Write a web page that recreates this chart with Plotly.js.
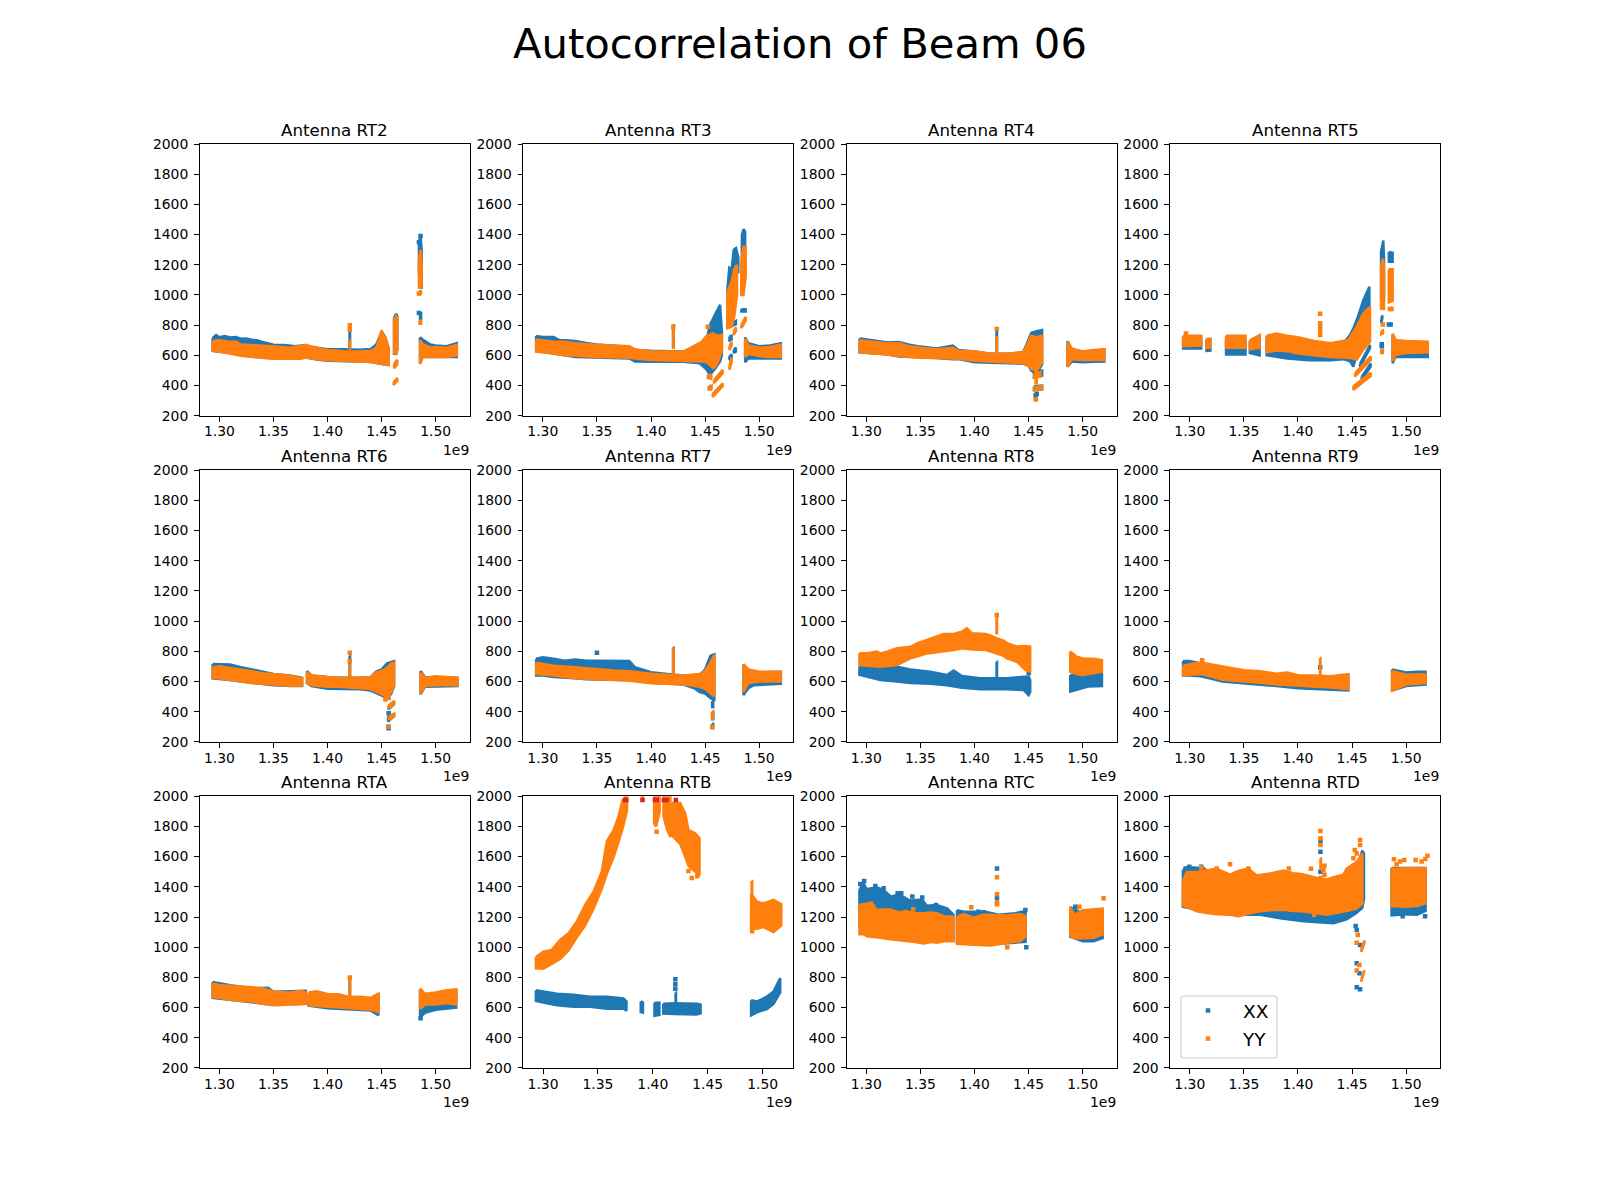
<!DOCTYPE html>
<html>
<head>
<meta charset="utf-8">
<script src="https://cdn.plot.ly/plotly-3.0.1.min.js"></script>
<style>html,body{margin:0;padding:0;background:#fff}</style>
</head>
<body>
<div id="chart" style="width:1600px;height:1200px"></div>
<script>
// Rows are [frequency / 1e9, lowest value, highest value]; null starts a new piece of the band.
const antennas = ['RT2','RT3','RT4','RT5','RT6','RT7','RT8','RT9','RTA','RTB','RTC','RTD'];
const xTicks = [1.30,1.35,1.40,1.45,1.50];
const xTickText = ['1.30','1.35','1.40','1.45','1.50'];
const yTicks = [200,400,600,800,1000,1200,1400,1600,1800,2000];

const rt2XX = [[1.2938,630,715],[1.297,628,735],[1.30,625,720],[1.305,620,728],[1.31,615,718],[1.315,610,722],[1.32,600,710],[1.325,595,712],[1.33,590,703],[1.335,588,700],[1.34,585,688],[1.345,582,680],[1.35,580,670],[1.36,580,668],[1.37,582,660],[1.38,585,668],[1.385,578,652],[1.39,572,650],[1.40,565,640],[1.415,562,640],[1.43,560,638],[1.44,556,642],[1.445,552,672],[1.45,545,755],[1.4535,540,720],[1.4565,538,640],null,
  [1.4615,610,850],[1.4635,610,875],[1.4645,640,860],null,[1.4204,640,800],[1.4208,640,800],null,
  [1.4845,1150,1350],[1.486,1050,1390],[1.487,1050,1300],null,[1.4855,840,880],[1.4865,840,880],null,
  [1.4855,545,720],[1.488,590,705],[1.495,590,672],[1.50,585,665],[1.51,590,660],[1.515,590,672],[1.5195,590,680]];
const rt2YY = [[1.2938,630,695],[1.30,625,700],[1.31,612,688],[1.315,606,692],[1.32,598,672],[1.33,590,668],[1.34,582,668],[1.35,578,660],[1.365,580,650],[1.375,578,662],[1.38,585,668],[1.39,575,650],[1.40,568,635],[1.415,562,628],[1.43,560,625],[1.44,556,630],[1.445,552,650],[1.45,545,765],[1.4535,540,715],[1.4565,535,650],null,
  [1.4615,615,835],[1.4635,610,860],[1.4645,640,850],null,[1.4204,640,700],[1.4208,640,700],null,
  [1.4615,515,545],[1.4645,540,570],null,[1.461,405,420],[1.4645,430,450],null,
  [1.4845,1050,1240],[1.486,1050,1300],[1.487,1060,1200],null,[1.4845,1000,1020],[1.4865,1010,1030],null,[1.485,810,830],[1.4865,810,830],null,
  [1.4855,545,700],[1.488,590,675],[1.495,592,652],[1.50,590,655],[1.51,590,650],[1.5195,600,670]];
const rt2XXDots = [[1.4845,1350],[1.486,1390],[1.4845,880]];
const rt2YYDots = [[1.4206,800],[1.4206,770],[1.4845,1010]];

const rt3XX = [[1.2938,630,728],[1.30,625,722],[1.31,612,722],[1.315,606,702],[1.32,600,700],[1.33,590,695],[1.34,588,682],[1.35,588,672],[1.38,580,655],[1.385,560,635],[1.40,558,630],[1.43,558,625],[1.445,548,650],[1.4514,505,702],[1.4543,470,800],[1.46,520,880],[1.4638,560,934],[1.4655,600,760],null,
  [1.4705,900,1030],[1.4724,950,1180],[1.4745,1000,1170],[1.4765,1080,1300],[1.4785,1150,1310],[1.4807,1150,1250],null,
  [1.484,1250,1400],[1.4855,1300,1435],[1.487,1290,1420],null,[1.4835,890,905],[1.4875,890,905],null,
  [1.4204,650,800],[1.4208,650,800],null,[1.487,555,720],[1.49,580,680],[1.50,578,660],[1.51,580,665],[1.52,580,680],null,
  [1.4765,800,825],[1.4785,805,830],null,[1.4725,700,725],[1.4745,705,730],null,[1.4765,615,640],[1.4785,625,650],null,[1.4725,570,595],[1.4745,580,605]];
const rt3YY = [[1.2938,625,705],[1.31,612,690],[1.32,600,690],[1.33,595,680],[1.35,590,670],[1.38,585,660],[1.385,580,640],[1.40,570,625],[1.43,565,625],[1.4468,560,690],[1.4514,555,730],[1.4576,514,746],[1.4605,535,730],[1.4655,625,735],null,
  [1.4705,780,1020],[1.4745,790,1090],[1.477,860,1170],[1.4795,1000,1200],null,
  [1.4835,1000,1230],[1.4855,1000,1320],[1.4875,1120,1320],null,
  [1.4204,650,780],[1.4208,650,780],null,[1.487,590,712],[1.49,610,668],[1.50,595,650],[1.51,590,655],[1.52,590,670],null,
  [1.457,325,345],[1.4662,395,415],null,[1.4582,415,435],[1.4662,482,505],null,[1.4535,375,395],[1.456,380,400],null,[1.4525,450,470],[1.4555,445,470],null,
  [1.4725,505,530],[1.4745,555,585],null,[1.4725,635,660],[1.4745,665,690],null,[1.4765,735,760],[1.4785,760,785],null,[1.4835,780,800],[1.4875,830,855]];
const rt3XXDots = [[1.4545,460],[1.4545,382]];
const rt3YYDots = [[1.4206,790],[1.4526,790]];

const rt4XX = [[1.2938,620,712],[1.30,618,705],[1.31,612,695],[1.32,605,685],[1.33,592,688],[1.34,590,670],[1.35,585,658],[1.365,582,645],[1.38,575,665],[1.385,575,635],[1.40,555,625],[1.415,555,610],[1.43,550,610],[1.445,545,620],[1.45,530,705],[1.4525,500,750],[1.4575,480,760],[1.4625,540,768],null,
  [1.4204,600,770],[1.4208,600,770],null,[1.4565,470,500],[1.4575,470,500],null,[1.4565,305,325],[1.4575,305,325],null,[1.455,455,490],[1.4625,465,500],null,[1.455,370,395],[1.4625,375,400],null,
  [1.486,525,695],[1.49,560,640],[1.50,555,625],[1.51,558,630],[1.52,560,640]];
const rt4YY = [[1.2938,620,700],[1.30,618,695],[1.31,612,685],[1.32,605,678],[1.33,595,680],[1.34,590,660],[1.35,585,650],[1.365,582,640],[1.38,578,650],[1.385,578,630],[1.40,565,625],[1.415,560,610],[1.43,555,610],[1.445,548,620],[1.45,530,690],[1.4525,510,730],[1.4575,500,720],[1.4625,550,730],null,
  [1.4204,620,720],[1.4208,620,720],null,[1.4565,415,500],[1.4575,415,500],null,[1.455,450,475],[1.461,460,490],null,[1.455,370,390],[1.4625,375,395],null,
  [1.486,525,690],[1.49,575,645],[1.50,570,625],[1.51,570,635],[1.52,570,640]];
const rt4XXDots = [[1.4565,335],[1.4575,345]];
const rt4YYDots = [[1.4206,775],[1.4565,310]];

const rt5XX = [[1.2938,645,710],[1.3105,645,715],null,[1.3155,630,705],[1.319,632,705],null,[1.3335,605,700],[1.3515,605,700],null,[1.3555,615,690],[1.3645,600,720],null,
  [1.371,602,720],[1.39,580,715],[1.41,568,690],[1.43,568,675],[1.442,575,680],[1.4481,560,735],[1.4512,525,780],[1.4543,610,834],[1.4605,670,967],[1.466,725,1055],null,
  [1.4574,525,545],[1.4666,648,668],null,[1.4589,438,458],[1.4672,526,546],null,
  [1.4768,960,1290],[1.4789,1060,1360],[1.4795,960,1240],null,[1.484,1220,1285],[1.4875,1220,1280],null,[1.485,1000,1170],[1.4865,1000,1170],null,
  [1.477,815,840],[1.478,845,865],null,[1.4875,547,735],[1.49,590,705],[1.50,590,668],[1.51,590,660],[1.52,590,680]];
const rt5YY = [[1.2938,660,730],[1.3105,665,730],null,[1.3155,650,710],[1.319,650,710],null,[1.3335,650,730],[1.3515,650,730],null,[1.3555,640,700],[1.3645,650,735],null,
  [1.371,620,730],[1.38,632,745],[1.39,628,730],[1.40,612,720],[1.415,600,695],[1.43,590,680],[1.4466,585,702],[1.4543,572,790],[1.4605,640,879],[1.4666,690,923],null,
  [1.4512,372,395],[1.4672,462,485],null,[1.4528,460,482],[1.4672,570,592],null,
  [1.4768,900,1190],[1.4785,980,1240],[1.4795,900,1180],null,[1.484,950,1170],[1.4875,960,1170],null,[1.477,740,760],[1.4785,745,765],null,[1.477,615,640],[1.4785,615,635],null,
  [1.4875,565,745],[1.49,602,702],[1.50,615,695],[1.51,615,695],[1.52,620,690]];
const rt5XXDots = [[1.4857,805],[1.484,805],[1.4775,673],[1.4775,660]];
const rt5YYDots = [[1.4205,875],[1.4205,812],[1.4205,790],[1.4205,760],[1.4205,735],[1.2965,745],[1.485,907],[1.4865,907],[1.4785,805]];

const rt6XX = [[1.2938,620,715],[1.30,615,712],[1.31,610,712],[1.32,600,695],[1.33,590,680],[1.34,582,665],[1.35,575,650],[1.365,570,640],[1.3765,570,625],null,
  [1.381,590,670],[1.385,570,640],[1.40,552,630],[1.41,552,625],[1.43,548,625],[1.44,540,630],[1.445,520,665],[1.45,505,680],[1.455,490,720],[1.459,520,730],[1.4615,570,735],null,
  [1.4565,415,440],[1.4615,450,470],null,[1.456,335,370],[1.4615,370,385],null,[1.4204,620,770],[1.4208,620,770],null,
  [1.486,515,670],[1.49,565,630],[1.50,570,625],[1.52,570,625]];
const rt6YY = [[1.2938,625,695],[1.30,620,700],[1.31,612,690],[1.32,600,680],[1.33,590,668],[1.34,585,655],[1.35,578,650],[1.365,572,640],[1.3765,572,622],null,
  [1.381,590,665],[1.385,575,640],[1.40,565,630],[1.41,565,625],[1.43,555,625],[1.44,550,630],[1.445,530,660],[1.45,515,670],[1.455,500,690],[1.459,530,720],[1.4615,580,725],null,
  [1.4565,420,440],[1.4615,450,470],null,[1.457,345,370],[1.4615,370,385],null,[1.4204,640,710],[1.4208,640,710],null,
  [1.486,520,660],[1.49,570,625],[1.50,575,635],[1.52,575,625]];
const rt6XXDots = [[1.4565,290],[1.4565,300],[1.4565,390]];
const rt6YYDots = [[1.4206,790],[1.4206,735],[1.4565,300],[1.4535,480],[1.4565,490]];

const rt7XX = [[1.2938,640,750],[1.30,640,760],[1.31,630,750],[1.32,625,738],[1.33,622,745],[1.34,615,738],[1.35,612,738],[1.365,612,735],[1.38,610,735],[1.385,612,695],[1.40,592,662],[1.415,588,650],[1.43,580,640],[1.44,555,640],[1.445,530,640],[1.45,520,680],[1.455,490,770],[1.4585,480,780],null,
  [1.4204,620,825],[1.4208,620,825],null,[1.4565,430,470],[1.4575,430,470],null,[1.4565,350,400],[1.4575,350,400],null,[1.4565,290,320],[1.4575,290,320],null,
  [1.4855,510,710],[1.49,555,660],[1.495,575,660],[1.50,580,660],[1.52,585,665]];
const rt7YY = [[1.2938,650,725],[1.31,640,705],[1.33,622,695],[1.35,612,682],[1.365,610,672],[1.38,605,668],[1.40,588,652],[1.415,585,645],[1.43,582,640],[1.445,565,650],[1.45,552,670],[1.455,520,725],[1.4585,500,775],null,
  [1.4204,640,825],[1.4208,640,825],null,[1.4565,355,400],[1.4575,355,400],null,
  [1.4855,530,715],[1.49,590,680],[1.50,600,665],[1.52,600,665]];
const rt7XXDots = [[1.35,790]];
const rt7YYDots = [[1.4565,300]];

const rt8XX = [[1.2936,645,700],[1.3129,610,690],[1.3283,600,698],[1.3407,590,680],[1.3591,585,665],[1.3745,575,643],[1.3807,570,672],[1.3884,558,636],[1.4054,548,621],[1.4177,548,621],[1.43,548,621],[1.4454,544,632],[1.45,510,632],[1.4515,530,610],null,
  [1.4204,621,731],[1.4208,621,731],null,[1.4885,533,643],[1.505,566,643],[1.5178,570,650]];
const rt8YY = [[1.2936,709,787],[1.3006,705,787],[1.3098,700,798],[1.3129,698,785],[1.3191,700,798],[1.3283,709,820],[1.3407,753,830],[1.3468,765,853],[1.3561,786,875],[1.3715,798,915],[1.3807,808,915],[1.3884,820,930],[1.393,815,952],[1.3977,812,919],[1.4100,809,915],[1.4146,800,905],[1.4208,786,886],[1.4269,770,870],[1.4300,753,853],[1.4392,731,831],[1.4470,676,835],[1.4515,665,831],null,
  [1.4204,919,1040],[1.4208,919,1040],null,[1.4885,665,798],[1.4945,650,764],[1.5,643,753],[1.51,655,750],[1.5178,665,742]];
const rt8XXDots = [[1.4501,654]];
const rt8YYDots = [[1.4206,1040]];

const rt9XX = [[1.2938,640,735],[1.30,640,735],[1.31,635,720],[1.32,618,705],[1.33,600,692],[1.34,595,675],[1.35,590,660],[1.38,570,640],[1.40,555,630],[1.415,550,625],[1.43,545,612],[1.4465,540,640],null,
  [1.487,540,680],[1.50,570,660],[1.51,575,665],[1.518,580,665]];
const rt9YY = [[1.2938,640,705],[1.30,645,715],[1.31,650,725],[1.32,632,712],[1.33,612,702],[1.34,605,685],[1.35,600,675],[1.365,592,668],[1.38,580,652],[1.39,575,660],[1.40,570,642],[1.415,565,640],[1.43,560,635],[1.4465,550,648],null,
  [1.4204,640,755],[1.4208,640,755],null,[1.487,540,670],[1.50,580,645],[1.51,585,648],[1.518,590,645]];
const rt9XXDots = [[1.4206,695]];
const rt9YYDots = [[1.3115,740]];

const rtaXX = [[1.2938,665,770],[1.31,652,748],[1.33,635,728],[1.345,622,732],[1.35,620,705],[1.38,625,712],null,
  [1.3825,612,680],[1.40,595,672],[1.42,590,660],[1.44,580,650],[1.447,550,692],null,
  [1.4204,640,790],[1.4208,640,790],null,[1.4855,535,720],[1.49,565,690],[1.50,585,690],[1.519,600,712]];
const rtaYY = [[1.2938,670,760],[1.30,665,750],[1.31,652,745],[1.32,645,742],[1.33,640,735],[1.34,625,728],[1.35,615,705],[1.365,618,700],[1.375,622,710],[1.38,625,700],null,
  [1.3825,615,700],[1.39,610,708],[1.40,605,690],[1.41,600,688],[1.42,595,670],[1.43,590,672],[1.44,585,665],[1.447,570,692],null,
  [1.4204,660,800],[1.4208,660,800],null,[1.4855,590,725],[1.49,620,690],[1.50,620,700],[1.51,630,715],[1.519,620,720]];
const rtaXXDots = [[1.486,530]];
const rtaYYDots = [[1.4206,800]];

const rtbXX = [[1.2935,643,715],[1.3126,615,692],[1.3277,605,685],[1.3429,605,672],[1.3581,592,672],[1.3733,592,660],[1.376,580,640],null,
  [1.389,570,640],[1.391,566,635],null,[1.4015,546,632],[1.406,552,632],null,[1.4095,560,625],[1.42,558,628],[1.44,555,625],[1.4435,562,620],null,
  [1.4207,640,700],[1.4211,640,700],null,[1.4895,548,648],[1.4947,568,640],[1.5038,590,672],[1.5099,625,706],[1.516,700,795]];
const rtbYY = [[1.2935,860,935],[1.3004,858,970],[1.308,890,982],[1.3156,922,1048],[1.3232,978,1092],[1.3308,1066,1170],[1.3384,1144,1280],[1.346,1254,1368],[1.3535,1387,1500],[1.3581,1486,1700],[1.3642,1596,1776],[1.3687,1696,1864],[1.3724,1784,1975],[1.3765,1906,2010],null,
  [1.39,1975,2010],[1.391,1975,2010],null,[1.4012,1818,2010],[1.403,1800,2010],[1.4062,1895,2010],null,[1.4097,1872,2010],[1.4127,1784,2010],[1.416,1730,2010],null,
  [1.4173,1740,1955],[1.4249,1685,1955],[1.4294,1600,1888],[1.4325,1540,1776],[1.4385,1500,1754],[1.4425,1475,1722],null,
  [1.4895,1122,1356],[1.4947,1122,1302],[1.5008,1133,1290],[1.5099,1100,1313],[1.517,1144,1285],null,[1.49,1360,1438],[1.4905,1360,1438]];
const rtbXXDots = [[1.4205,787],[1.4205,755],[1.4205,725]];
const rtbYYDots = [[1.3625,1640],[1.4035,1765],[1.4355,1458],[1.4325,1505],[1.4405,1470],[1.4905,1105]];
const rtbClipped = [[1.3748,1975],[1.3758,1975],[1.3906,1975],[1.402,1975],[1.4036,1975],[1.41,1975],[1.4127,1975],[1.4209,1975]];

const rtcXX = [[1.2936,1140,1380],[1.2975,1130,1425],[1.30,1120,1385],[1.31,1120,1395],[1.3155,1100,1380],[1.323,1090,1335],[1.33,1080,1350],[1.34,1070,1310],[1.3515,1060,1315],[1.356,1050,1275],[1.365,1045,1280],[1.375,1045,1255],[1.3805,1045,1215],null,
  [1.3838,1025,1245],[1.39,1022,1235],[1.40,1020,1235],[1.41,1018,1235],[1.4225,1025,1215],[1.4375,1030,1225],[1.4472,1035,1240],null,
  [1.4885,1070,1265],[1.50,1040,1225],[1.51,1040,1225],[1.5185,1060,1235]];
const rtcYY = [[1.2936,1085,1280],[1.298,1085,1285],[1.3006,1072,1290],[1.305,1070,1295],[1.3098,1065,1245],[1.3129,1062,1250],[1.3222,1052,1250],[1.33,1045,1230],[1.336,1040,1240],[1.345,1035,1225],[1.353,1025,1225],[1.36,1035,1230],[1.3653,1030,1225],[1.3715,1040,1205],[1.3805,1040,1200],null,
  [1.3838,1022,1200],[1.39,1020,1220],[1.3992,1018,1195],[1.4075,1015,1215],[1.4146,1012,1215],[1.425,1022,1210],[1.43,1030,1210],[1.4424,1040,1220],[1.4472,1070,1205],null,
  [1.4885,1080,1270],[1.492,1060,1215],[1.50,1060,1245],[1.51,1062,1250],[1.5185,1085,1255]];
const rtcXXDots = [[1.2944,1418],[1.298,1438],[1.3083,1405],[1.316,1390],[1.329,1357],[1.3323,1357],[1.3425,1335],[1.3517,1330],[1.3644,1280],[1.4035,1235],[1.4082,1231],[1.4177,1207],[1.4208,1522],[1.4208,1324],[1.447,1246],[1.4479,1000],[1.4932,1268]];
const rtcYYDots = [[1.4208,1463],[1.4208,1350],[1.4208,1295],[1.4208,1284],[1.397,1264],[1.4303,999],[1.5193,1324],[1.4969,1268],[1.3434,1251]];

const rtdXX = [[1.2936,1268,1510],[1.2975,1262,1530],[1.3125,1240,1525],[1.322,1225,1475],[1.3433,1215,1460],[1.3649,1215,1450],[1.3834,1192,1450],[1.405,1172,1440],[1.4327,1158,1430],[1.445,1185,1470],[1.4543,1228,1530],[1.4595,1260,1640],[1.461,1320,1620],null,
  [1.4865,1210,1525],[1.50,1218,1525],[1.51,1215,1525],[1.518,1240,1525]];
const rtdYY = [[1.2936,1275,1440],[1.2971,1268,1498],[1.3064,1238,1498],[1.3171,1225,1508],[1.3248,1218,1520],[1.3372,1215,1480],[1.3449,1205,1505],[1.3541,1222,1520],[1.3618,1235,1475],[1.3741,1245,1488],[1.3865,1248,1508],[1.3957,1240,1490],[1.4034,1238,1485],[1.4173,1225,1458],[1.4265,1215,1450],[1.4419,1235,1480],[1.445,1240,1520],[1.4543,1258,1565],[1.4595,1290,1620],null,
  [1.4865,1272,1520],[1.50,1268,1525],[1.51,1272,1525],[1.518,1290,1525],null,[1.4208,1522,1589],[1.4212,1522,1589],null,[1.4585,970,985],[1.4615,1030,1045],null,[1.4585,772,785],[1.4615,835,848]];
const rtdXXDots = [[1.2961,1522],[1.2995,1533],[1.3106,1533],[1.4208,1703],[1.4208,1633],[1.4208,1500],[1.4543,1114],[1.4574,1015],[1.4543,893],[1.4568,827],[1.4543,734],[1.4574,721],[1.4533,1140],[1.5175,1205],[1.4968,1205]];
const rtdYYDots = [[1.3372,1549],[1.3248,1522],[1.3106,1528],[1.3541,1522],[1.3915,1522],[1.412,1520],[1.4245,1540],[1.4208,1770],[1.4208,1721],[1.4208,1677],[1.4207,1458],[1.4245,1480],[1.4525,1644],[1.4574,1710],[1.4574,1677],[1.4512,1589],[1.4543,1620],[1.4553,1081],[1.4543,1030],[1.4568,882],[1.4543,845],[1.4887,1582],[1.4943,1567],[1.4983,1578],[1.5088,1578],[1.5143,1567],[1.5177,1585],[1.5197,1606],[1.4912,1550],[1.4235,1510],[1.415,1215]];

const xxBands = [rt2XX,rt3XX,rt4XX,rt5XX,rt6XX,rt7XX,rt8XX,rt9XX,rtaXX,rtbXX,rtcXX,rtdXX];
const yyBands = [rt2YY,rt3YY,rt4YY,rt5YY,rt6YY,rt7YY,rt8YY,rt9YY,rtaYY,rtbYY,rtcYY,rtdYY];
const xxDots = [rt2XXDots,rt3XXDots,rt4XXDots,rt5XXDots,rt6XXDots,rt7XXDots,rt8XXDots,rt9XXDots,rtaXXDots,rtbXXDots,rtcXXDots,rtdXXDots];
const yyDots = [rt2YYDots,rt3YYDots,rt4YYDots,rt5YYDots,rt6YYDots,rt7YYDots,rt8YYDots,rt9YYDots,rtaYYDots,rtbYYDots,rtcYYDots,rtdYYDots];

const BLUE = '#1f77b4', ORANGE = '#ff7f0e', RED = '#d62728';
const FONT = 'DejaVu Sans, sans-serif';

// axes boxes of a 16x12 inch 3x4 matplotlib grid, in pixels
const W = 1600, H = 1200, boxW = 269.57, boxH = 271.76, gapX = 53.91, gapY = 54.35;

// outline every band piece as a closed polygon through its rows
function bandTrace(rows, color, axis) {
    const x = [], y = [];
    let piece = [];
    const flush = () => {
        piece.forEach(r => { x.push(r[0]); y.push(r[2]); });
        piece.slice().reverse().forEach(r => { x.push(r[0]); y.push(r[1]); });
        if (piece.length) { x.push(piece[0][0]); y.push(piece[0][2]); x.push(null); y.push(null); }
        piece = [];
    };
    rows.forEach(r => { if (r === null) flush(); else piece.push(r); });
    flush();
    return { x, y, type: 'scatter', mode: 'lines', fill: 'toself', fillcolor: color,
        line: { color, width: 2.5 }, xaxis: 'x' + axis, yaxis: 'y' + axis, showlegend: false, hoverinfo: 'skip' };
}

function dotTrace(rows, color, axis, name, group) {
    return { x: rows.map(r => r[0]), y: rows.map(r => r[1]), type: 'scatter', mode: 'markers',
        marker: { color, size: 4.5, symbol: 'square' }, xaxis: 'x' + axis, yaxis: 'y' + axis,
        name: name || '', showlegend: !!name, legendgroup: group, hoverinfo: 'skip' };
}

const traces = [];
const layout = {
    width: W, height: H, margin: { l: 0, r: 0, t: 0, b: 0 },
    paper_bgcolor: '#fff', plot_bgcolor: '#fff',
    font: { family: FONT, color: '#000', size: 13.9 },
    title: { text: 'Autocorrelation of Beam 06', font: { family: FONT, size: 41.7, color: '#000' },
        x: 0.5, xanchor: 'center', y: 1 - 43 / H, yanchor: 'middle' },
    annotations: [], shapes: [],
    showlegend: true,
    legend: { x: 1173 / W, y: 1 - 992 / H, xanchor: 'left', yanchor: 'top', bgcolor: 'rgba(0,0,0,0)',
        font: { family: FONT, size: 18.5, color: '#000' }, itemwidth: 60, tracegroupgap: 1, borderwidth: 0 },
};

antennas.forEach((name, i) => {
    const n = i + 1, col = i % 4, row = Math.floor(i / 4);
    const left = 200 + col * (boxW + gapX), top = 144 + row * (boxH + gapY);
    const isLast = i === antennas.length - 1;
    traces.push(bandTrace(xxBands[i], BLUE, n));
    traces.push(dotTrace(xxDots[i], BLUE, n, isLast ? 'XX' : '', 'xx'));
    traces.push(bandTrace(yyBands[i], ORANGE, n));
    traces.push(dotTrace(yyDots[i], ORANGE, n, isLast ? 'YY' : '', 'yy'));
    if (name === 'RTB') traces.push(dotTrace(rtbClipped, RED, n));

    layout['xaxis' + n] = {
        domain: [left / W, (left + boxW) / W], anchor: 'y' + n,
        range: name === 'RTB' ? [1.2822, 1.5277] : [1.2821, 1.5313],
        tickmode: 'array', tickvals: xTicks, ticktext: xTickText, ticklabelstandoff: -2,
        ticks: 'outside', ticklen: 4.9, tickwidth: 1.1, tickcolor: '#000',
        showline: true, mirror: true, linecolor: '#000', linewidth: 1.1,
        showgrid: false, zeroline: false, tickfont: { family: FONT, size: 13.9, color: '#000' },
    };
    layout['yaxis' + n] = {
        domain: [1 - (top + boxH) / H, 1 - top / H], anchor: 'x' + n, range: [200, 2000],
        tickmode: 'array', tickvals: yTicks, ticklabelstandoff: 3,
        ticks: 'outside', ticklen: 4.9, tickwidth: 1.1, tickcolor: '#000',
        showline: true, mirror: true, linecolor: '#000', linewidth: 1.1,
        showgrid: false, zeroline: false, tickfont: { family: FONT, size: 13.9, color: '#000' },
    };
    layout.annotations.push({ text: 'Antenna ' + name, xref: 'paper', yref: 'paper',
        x: (left + boxW / 2) / W, y: 1 - (top - 3) / H, xanchor: 'center', yanchor: 'bottom',
        showarrow: false, borderpad: 0, font: { family: FONT, size: 16.7, color: '#000' } });
    layout.annotations.push({ text: '1e9', xref: 'paper', yref: 'paper',
        x: (left + boxW) / W, y: 1 - (top + boxH + 25) / H, xanchor: 'right', yanchor: 'top',
        showarrow: false, borderpad: 0, font: { family: FONT, size: 13.9, color: '#000' } });
});

// legend frame with rounded corners
const fx = v => (v / W).toFixed(5), fy = v => (1 - v / H).toFixed(5);
const lx0 = 1181, lx1 = 1277, ly0 = 996, ly1 = 1058, rr = 3;
layout.shapes.push({ type: 'path', xref: 'paper', yref: 'paper', layer: 'above',
    path: `M ${fx(lx0 + rr)} ${fy(ly0)} L ${fx(lx1 - rr)} ${fy(ly0)} Q ${fx(lx1)} ${fy(ly0)} ${fx(lx1)} ${fy(ly0 + rr)} ` +
          `L ${fx(lx1)} ${fy(ly1 - rr)} Q ${fx(lx1)} ${fy(ly1)} ${fx(lx1 - rr)} ${fy(ly1)} ` +
          `L ${fx(lx0 + rr)} ${fy(ly1)} Q ${fx(lx0)} ${fy(ly1)} ${fx(lx0)} ${fy(ly1 - rr)} ` +
          `L ${fx(lx0)} ${fy(ly0 + rr)} Q ${fx(lx0)} ${fy(ly0)} ${fx(lx0 + rr)} ${fy(ly0)} Z`,
    line: { color: '#cccccc', width: 1.1 }, fillcolor: 'rgba(255,255,255,0)' });

Plotly.newPlot('chart', traces, layout, { displayModeBar: false, responsive: false });
</script>
</body>
</html>
